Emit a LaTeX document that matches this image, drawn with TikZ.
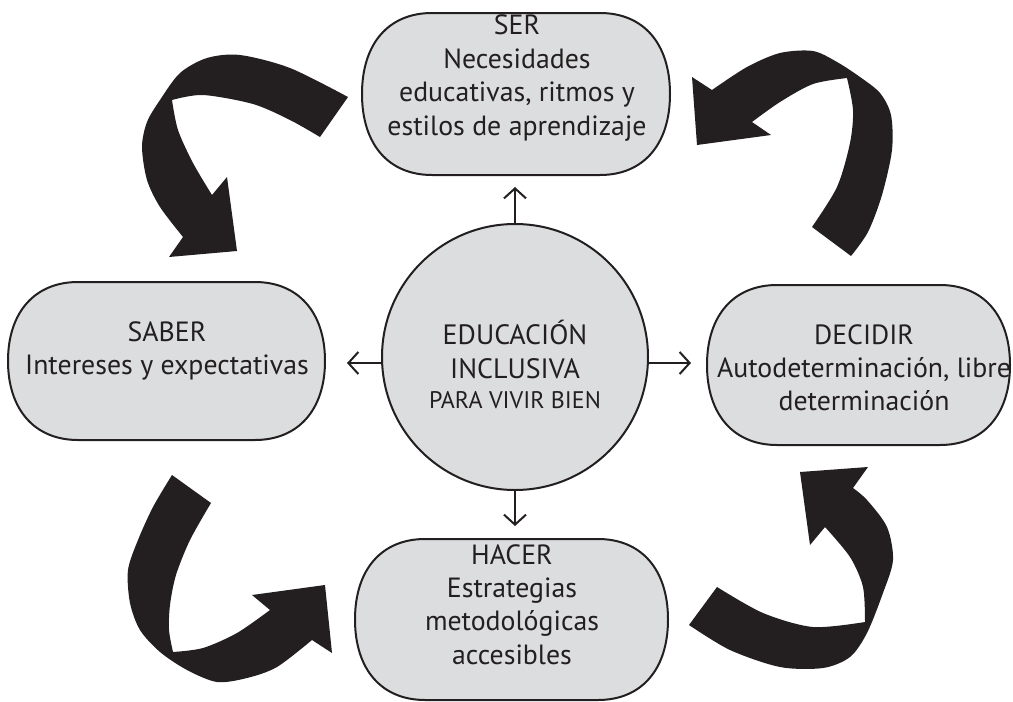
\documentclass[tikz,border=0pt]{standalone}
\usepackage{fontspec}
\setmainfont{PT Sans}
\usetikzlibrary{arrows.meta}
\definecolor{ink}{RGB}{35,31,32}
\definecolor{boxfill}{RGB}{220,221,222}
\tikzset{
  boxstyle/.style={draw=ink, fill=boxfill, line width=2pt},
  boxtext/.style={text=ink, align=center, inner sep=0pt, anchor=north, font=\fontsize{27.8}{33.4}\selectfont},
  bigarrow/.style={fill=ink},
  smallarrow/.style={draw=ink, line width=2pt, -{Straight Barb[length=10pt,width=22pt,line width=2pt]}},
}
\newcommand\capsule[4]{%
  \filldraw[boxstyle] ({#1+70},#2) -- ({#3-70},#2)
    .. controls ({#3-27},#2) and (#3,{#2+30}) .. (#3,{(#2+#4)/2})
    .. controls (#3,{#4-30}) and ({#3-27},#4) .. ({#3-70},#4)
    -- ({#1+70},#4)
    .. controls ({#1+27},#4) and (#1,{#4-30}) .. (#1,{(#2+#4)/2})
    .. controls (#1,{#2+30}) and ({#1+27},#2) .. ({#1+70},#2) -- cycle;}
\begin{document}
\begin{tikzpicture}[x=1pt,y=-1pt]
\useasboundingbox (0,0) rectangle (1013,702);
% boxes
\capsule{362}{13}{670}{175}
\capsule{8}{282}{325}{440}
\capsule{707}{285}{1010}{445}
\capsule{355}{539}{668}{700}
\node[boxtext] (ser) at (517,15) {SER\\Necesidades\\educativas, ritmos y\\estilos de aprendizaje};
\node[boxtext] (saber) at (167,321) {SABER\\Intereses y expectativas};
\node[boxtext] (decidir) at (864,324) {DECIDIR\\Autodeterminación, libre\\determinación};
\node[boxtext] (hacer) at (512,544) {HACER\\Estrategias\\metodológicas\\accesibles};
% centre
\node[draw=ink, fill=boxfill, line width=2pt, circle, minimum size=266pt, inner sep=0pt] (centro) at (515,357) {};
\node[text=ink, align=center, inner sep=0pt, anchor=north, font=\fontsize{28}{34}\selectfont] (centrotext) at (515,320)
  {EDUCACIÓN\\INCLUSIVA\\[-4pt]{\fontsize{24}{28}\selectfont PARA VIVIR BIEN}};
% small arrows
\coordinate (upend) at (515,187);
\coordinate (leftend) at (347,363);
\coordinate (rightend) at (691,363);
\coordinate (downend) at (515,526);
\draw[smallarrow] (centro.north) -- (upend);
\draw[smallarrow] (leftend -| centro.west) -- (leftend);
\draw[smallarrow] (rightend -| centro.east) -- (rightend);
\draw[smallarrow] (centro.south) -- (downend);
% big curved arrows
\fill[bigarrow] plot[smooth] coordinates {(348,97) (290,68) (240,55) (207,58) (180,73) (160,100) (147,122) (142,147) (147,180) (160,207) (183,237)}
  -- (169,257) -- (237,251) -- (227,177)
  -- plot[smooth] coordinates {(212,195) (193,163) (178,130) (172,100)}
  -- plot[smooth] coordinates {(172,100) (203,95) (253,104) (290,120) (320,137)} -- cycle;
\fill[bigarrow] plot[smooth] coordinates {(851,256) (868,232) (882,195) (892,150) (891,115) (880,93) (860,77) (837,62) (813,51) (780,53) (747,67) (712,90)}
  -- (692,77) -- (697,145) -- (771,135)
  -- plot[smooth] coordinates {(752,122) (780,102) (813,84) (847,78)}
  -- plot[smooth] coordinates {(847,78) (853,110) (850,143) (837,187) (812,227)} -- cycle;
\fill[bigarrow] plot[smooth] coordinates {(172,475) (153,507) (138,540) (128,570) (130,603) (140,630) (160,652) (187,670) (217,682) (247,678) (277,667) (312,640)}
  -- (332,653) -- (325,585) -- (252,595)
  -- plot[smooth] coordinates {(270,610) (237,633) (203,648) (173,652)}
  -- plot[smooth] coordinates {(173,652) (169,630) (170,605) (176,575) (190,540) (211,503)} -- cycle;
\fill[bigarrow] plot[smooth] coordinates {(689,625) (730,650) (780,667) (823,668) (850,657) (867,633) (883,593) (893,560) (887,527) (867,500) (853,488)}
  -- (868,467) -- (800,472) -- (810,545)
  -- plot[smooth] coordinates {(825,527) (850,557) (863,587) (865,622)}
  -- plot[smooth] coordinates {(865,622) (813,627) (763,613) (717,587)} -- cycle;
\end{tikzpicture}
\end{document}
